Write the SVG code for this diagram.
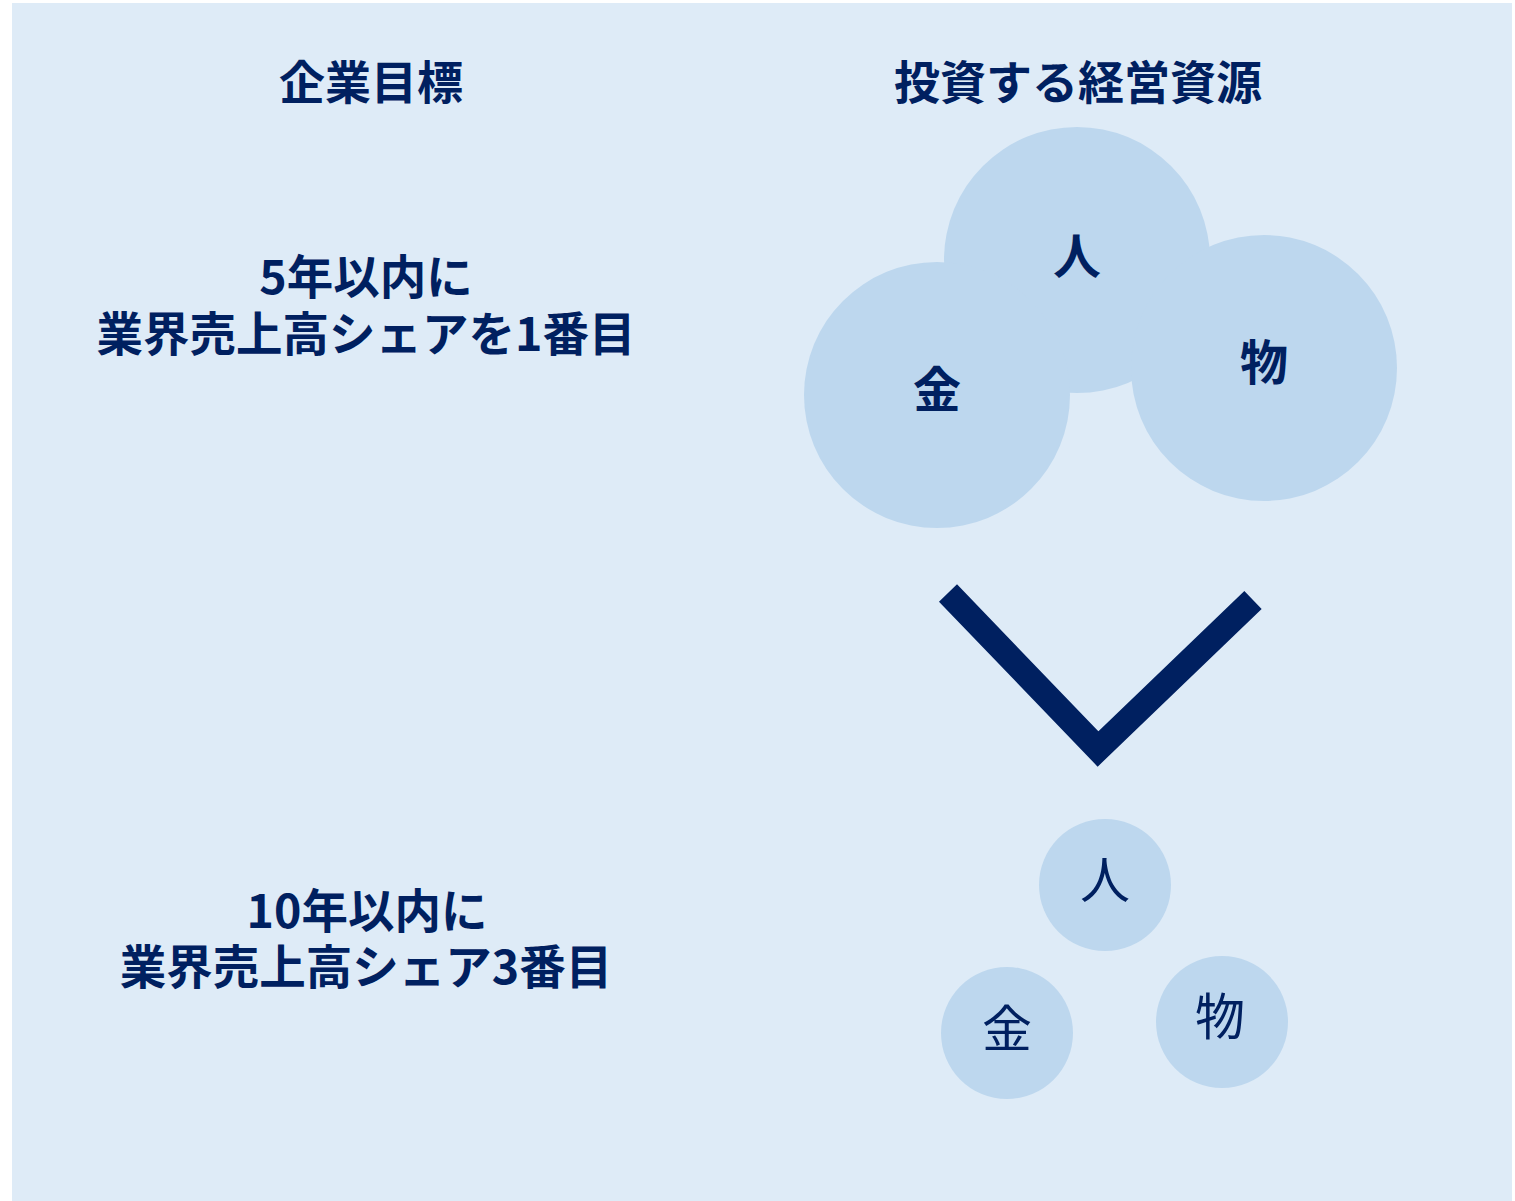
<svg xmlns="http://www.w3.org/2000/svg" width="1515" height="1201" viewBox="0 0 1515 1201">
<style>
text{font-family:"Noto Sans CJK JP","Noto Sans",sans-serif;fill:#002060;text-anchor:middle}
.b{font-weight:bold}
.h{font-size:46px}
.g{font-size:46.5px}
.big{font-size:48px}
.sm{font-size:50px;font-weight:normal}
.c{fill:#BDD7EE}
</style>
<rect x="12" y="3" width="1500" height="1198" fill="#DEEBF7"/>
<g id="heading-goal"><text class="b h" x="371" y="99">企業目標</text></g>
<g id="heading-resources"><text class="b h" x="1078" y="99">投資する経営資源</text></g>
<g id="goal-5y"><text class="b g"><tspan x="366" y="294">5年以内に</tspan><tspan x="366" y="351">業界売上高シェアを1番目</tspan></text></g>
<g id="goal-10y"><text class="b g"><tspan x="367" y="928">10年以内に</tspan><tspan x="366" y="984">業界売上高シェア3番目</tspan></text></g>
<g id="big-hito"><circle class="c" cx="1077" cy="260" r="133"/><text class="b big" x="1077" y="274">人</text></g>
<g id="big-kane"><circle class="c" cx="937" cy="395" r="133"/><text class="b big" x="937" y="407">金</text></g>
<g id="big-mono"><circle class="c" cx="1264" cy="368" r="133"/><text class="b big" x="1264" y="380">物</text></g>
<g id="connectors"><polyline points="948,593 1098,749 1253,600" fill="none" stroke="#002060" stroke-width="25" stroke-linejoin="miter"/></g>
<g id="small-hito"><circle class="c" cx="1105" cy="885" r="66"/><text class="sm" x="1105" y="898">人</text></g>
<g id="small-kane"><circle class="c" cx="1007" cy="1033" r="66"/><text class="sm" x="1007" y="1047">金</text></g>
<g id="small-mono"><circle class="c" cx="1222" cy="1022" r="66"/><text class="sm" x="1220" y="1035">物</text></g>
</svg>
